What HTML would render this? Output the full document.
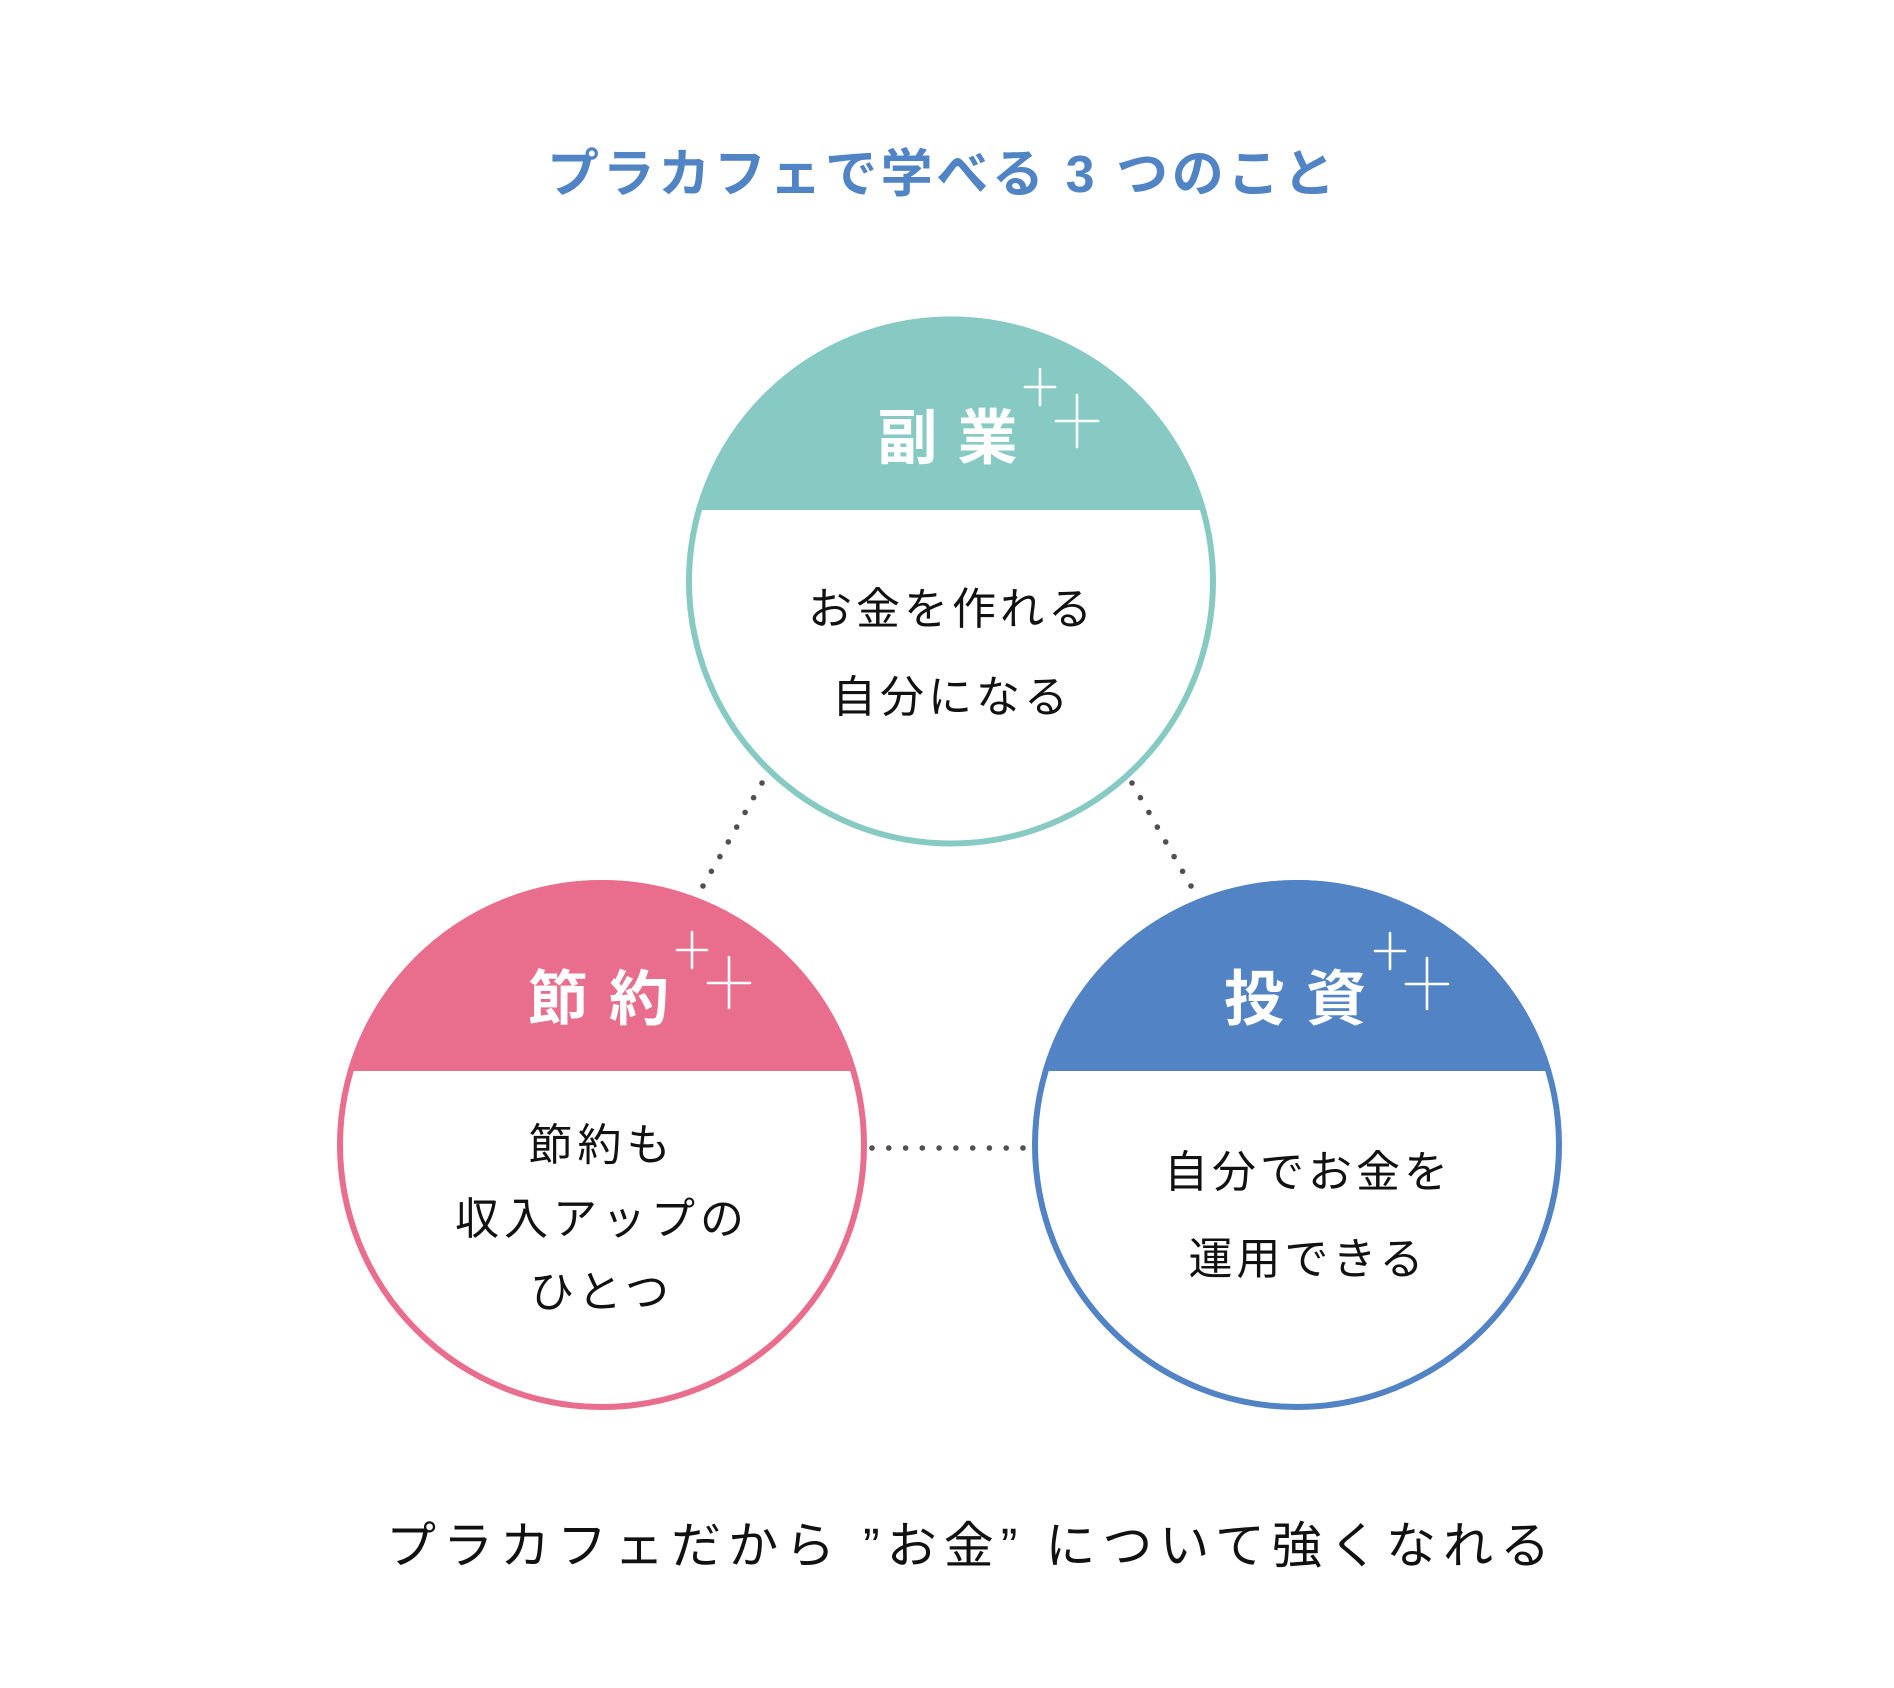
<!DOCTYPE html>
<html>
<head>
<meta charset="utf-8">
<style>
  html,body{margin:0;padding:0;background:#ffffff;}
  svg{display:block;}
  text{font-family:"Liberation Sans","Noto Sans CJK JP",sans-serif;}
</style>
</head>
<body>
<svg width="1894" height="1688" viewBox="0 0 1894 1688" xmlns="http://www.w3.org/2000/svg">
  <rect width="1894" height="1688" fill="#ffffff"/>
  <defs>
    <clipPath id="cTop"><circle cx="951" cy="581.5" r="265"/></clipPath>
    <clipPath id="cLeft"><circle cx="602" cy="1145" r="265"/></clipPath>
    <clipPath id="cRight"><circle cx="1297" cy="1145" r="265"/></clipPath>
  </defs>

  <!-- Title -->
  <text x="547" y="192" font-size="52" font-weight="bold" fill="#5184C4" textLength="788" lengthAdjust="spacing">プラカフェで学べる 3 つのこと</text>

  <!-- Dotted connectors -->
  <g fill="#505050">
    <circle cx="762" cy="783" r="2.8"/><circle cx="753.6" cy="797.7" r="2.8"/><circle cx="745.1" cy="812.4" r="2.8"/><circle cx="736.7" cy="827.1" r="2.8"/>
    <circle cx="728.3" cy="841.9" r="2.8"/><circle cx="719.9" cy="856.6" r="2.8"/><circle cx="711.4" cy="871.3" r="2.8"/><circle cx="703" cy="886" r="2.8"/>
    <circle cx="1132" cy="783" r="2.8"/><circle cx="1140.4" cy="797.7" r="2.8"/><circle cx="1148.9" cy="812.4" r="2.8"/><circle cx="1157.3" cy="827.1" r="2.8"/>
    <circle cx="1165.7" cy="841.9" r="2.8"/><circle cx="1174.1" cy="856.6" r="2.8"/><circle cx="1182.6" cy="871.3" r="2.8"/><circle cx="1191" cy="886" r="2.8"/>
    <circle cx="872" cy="1148" r="2.8"/><circle cx="888.8" cy="1148" r="2.8"/><circle cx="905.6" cy="1148" r="2.8"/><circle cx="922.3" cy="1148" r="2.8"/>
    <circle cx="939.1" cy="1148" r="2.8"/><circle cx="955.9" cy="1148" r="2.8"/><circle cx="972.7" cy="1148" r="2.8"/><circle cx="989.4" cy="1148" r="2.8"/>
    <circle cx="1006.2" cy="1148" r="2.8"/><circle cx="1023" cy="1148" r="2.8"/>
  </g>

  <!-- Top circle (副業) -->
  <circle cx="951" cy="581.5" r="262" fill="#ffffff"/>
  <rect x="686" y="316" width="530" height="194" fill="#86CAC3" clip-path="url(#cTop)"/>
  <circle cx="951" cy="581.5" r="262" fill="none" stroke="#86CAC3" stroke-width="6"/>
  <text x="907.5 987.5" y="459" font-size="60" font-weight="bold" fill="#ffffff" text-anchor="middle">副業</text>
  <g stroke="#ffffff" stroke-width="2.6" stroke-linecap="round">
    <line x1="1040" y1="369" x2="1040" y2="405"/><line x1="1025" y1="387" x2="1055" y2="387"/>
    <line x1="1077" y1="395" x2="1077" y2="447"/><line x1="1056" y1="421" x2="1098" y2="421"/>
  </g>
  <text x="952" y="624" font-size="44" fill="#111111" text-anchor="middle" letter-spacing="4">お金を作れる</text>
  <text x="952" y="712" font-size="44" fill="#111111" text-anchor="middle" letter-spacing="4">自分になる</text>

  <!-- Left circle (節約) -->
  <circle cx="602" cy="1145" r="262" fill="#ffffff"/>
  <rect x="337" y="880" width="530" height="191" fill="#E96D8C" clip-path="url(#cLeft)"/>
  <circle cx="602" cy="1145" r="262" fill="none" stroke="#E96D8C" stroke-width="6"/>
  <text x="558 639" y="1020" font-size="60" font-weight="bold" fill="#ffffff" text-anchor="middle">節約</text>
  <g stroke="#ffffff" stroke-width="2.6" stroke-linecap="round">
    <line x1="692" y1="932" x2="692" y2="968"/><line x1="677" y1="950" x2="707" y2="950"/>
    <line x1="729" y1="957" x2="729" y2="1008"/><line x1="708" y1="983" x2="750" y2="983"/>
  </g>
  <text x="602" y="1160" font-size="44" fill="#111111" text-anchor="middle" letter-spacing="5">節約も</text>
  <text x="602" y="1234" font-size="44" fill="#111111" text-anchor="middle" letter-spacing="5">収入アップの</text>
  <text x="602" y="1307" font-size="44" fill="#111111" text-anchor="middle" letter-spacing="5">ひとつ</text>

  <!-- Right circle (投資) -->
  <circle cx="1297" cy="1145" r="262" fill="#ffffff"/>
  <rect x="1032" y="880" width="530" height="191" fill="#5283C4" clip-path="url(#cRight)"/>
  <circle cx="1297" cy="1145" r="262" fill="none" stroke="#5283C4" stroke-width="6"/>
  <text x="1254 1336" y="1020" font-size="60" font-weight="bold" fill="#ffffff" text-anchor="middle">投資</text>
  <g stroke="#ffffff" stroke-width="2.6" stroke-linecap="round">
    <line x1="1390" y1="933" x2="1390" y2="969"/><line x1="1375" y1="951" x2="1405" y2="951"/>
    <line x1="1427" y1="958" x2="1427" y2="1009"/><line x1="1406" y1="984" x2="1448" y2="984"/>
  </g>
  <text x="1308" y="1187" font-size="44" fill="#111111" text-anchor="middle" letter-spacing="4">自分でお金を</text>
  <text x="1308" y="1274" font-size="44" fill="#111111" text-anchor="middle" letter-spacing="4">運用できる</text>

  <!-- Bottom caption -->
  <text x="386" y="1563" font-size="50" fill="#111111" textLength="1164" lengthAdjust="spacing">プラカフェだから ”お金” について強くなれる</text>
</svg>
</body>
</html>
